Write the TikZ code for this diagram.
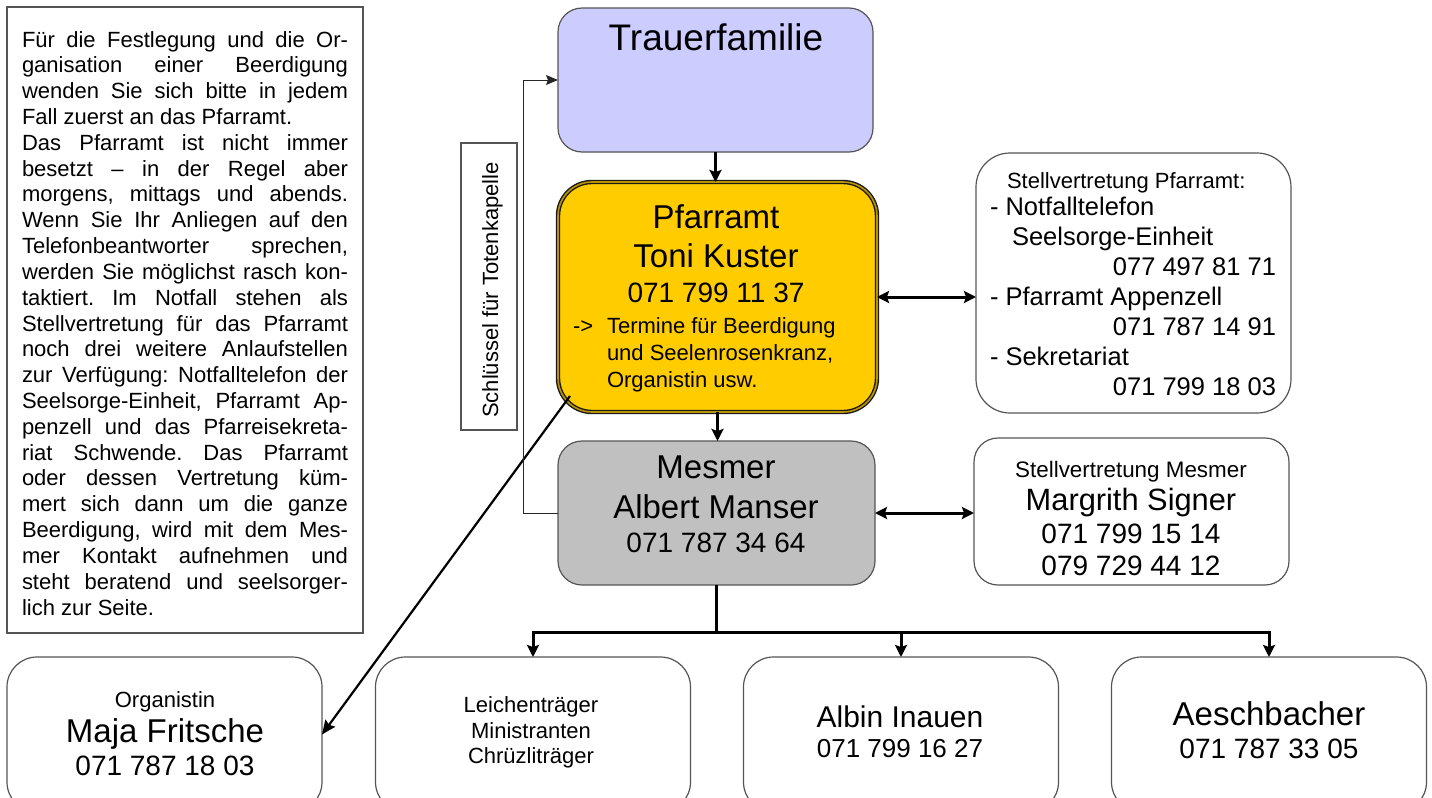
\documentclass[tikz,border=0pt]{standalone}
\usepackage{fontspec}
\setmainfont{Liberation Sans}
\usetikzlibrary{arrows.meta,calc}
\definecolor{lav}{HTML}{CCCCFF}
\definecolor{gold}{HTML}{FFCC00}
\definecolor{golddark}{HTML}{B89400}
\definecolor{grayfill}{HTML}{C0C0C0}
\definecolor{edge}{HTML}{555555}
\newcommand{\fsz}[1]{\fontsize{#1}{#1}\selectfont}
\frenchspacing
\begin{document}
\begin{tikzpicture}[x=0.5pt,y=-0.5pt,
  box/.style={draw=edge, line width=0.6pt, inner sep=0pt, outer sep=0pt},
  tx/.style={inner sep=0pt, outer sep=0pt, anchor=base},
  txl/.style={inner sep=0pt, outer sep=0pt, anchor=base west},
  txr/.style={inner sep=0pt, outer sep=0pt, anchor=base east},
  big/.style={-{Stealth[length=6pt,width=6pt,inset=1pt]}, line width=1.5pt},
  bidir/.style={{Stealth[length=6pt,width=6pt,inset=1pt]}-{Stealth[length=6pt,width=6pt,inset=1pt]}, line width=1.5pt},
  diag/.style={-{Stealth[length=7pt,width=6pt,inset=1pt]}, line width=1.1pt},
  slim/.style={-{Stealth[length=6pt,width=5pt,inset=1pt]}, line width=0.5pt, draw=black!85},
  bottombox/.style={box, rounded corners=15pt, minimum width=157.5pt, minimum height=77.5pt},
]
\clip (0,0) rectangle (1432,798);
\fill[white] (0,0) rectangle (1432,798);

% info text box
\node[box, line width=0.8pt, minimum width=178pt, minimum height=313pt] (info) at (185,320) {};
\node[txl] (infotext) at (22,47) {\parbox[t]{163pt}{\fontsize{11pt}{12.91pt}\selectfont\frenchspacing
\makebox[\linewidth][s]{Für die Festlegung und die Or-}\\
\makebox[\linewidth][s]{ganisation einer Beerdigung}\\
\makebox[\linewidth][s]{wenden Sie sich bitte in jedem}\\
Fall zuerst an das Pfarramt.\\
\makebox[\linewidth][s]{Das Pfarramt ist nicht immer}\\
\makebox[\linewidth][s]{besetzt – in der Regel aber}\\
\makebox[\linewidth][s]{morgens, mittags und abends.}\\
\makebox[\linewidth][s]{Wenn Sie Ihr Anliegen auf den}\\
\makebox[\linewidth][s]{Telefonbeantworter sprechen,}\\
\makebox[\linewidth][s]{werden Sie möglichst rasch kon-}\\
\makebox[\linewidth][s]{taktiert. Im Notfall stehen als}\\
\makebox[\linewidth][s]{Stellvertretung für das Pfarramt}\\
\makebox[\linewidth][s]{noch drei weitere Anlaufstellen}\\
\makebox[\linewidth][s]{zur Verfügung: Notfalltelefon der}\\
\makebox[\linewidth][s]{Seelsorge-Einheit, Pfarramt Ap-}\\
\makebox[\linewidth][s]{penzell und das Pfarreisekreta-}\\
\makebox[\linewidth][s]{riat Schwende. Das Pfarramt}\\
\makebox[\linewidth][s]{oder dessen Vertretung küm-}\\
\makebox[\linewidth][s]{mert sich dann um die ganze}\\
\makebox[\linewidth][s]{Beerdigung, wird mit dem Mes-}\\
\makebox[\linewidth][s]{mer Kontakt aufnehmen und}\\
\makebox[\linewidth][s]{steht beratend und seelsorger-}\\
lich zur Seite.}};

% Trauerfamilie
\node[box, fill=lav, rounded corners=12pt, minimum width=157.5pt, minimum height=72pt] (tf) at (715.5,80) {};
\node[tx, font=\fsz{18.5pt}] (tft) at (716,50) {Trauerfamilie};

% Pfarramt
\node[box, fill=gold, draw=black!90, double=golddark, double distance=0.8pt, line width=0.7pt, rounded corners=17pt, minimum width=159.5pt, minimum height=115pt] (pf) at (717.5,297) {};
\node[tx, font=\fsz{16.5pt}] (pf1) at (716,228) {Pfarramt};
\node[tx, font=\fsz{16.5pt}] (pf2) at (716,267) {Toni Kuster};
\node[tx, font=\fsz{14pt}] (pf3) at (716,302) {071 799 11 37};
\node[txl, font=\fsz{11pt}] (pf4a) at (573,333) {->};
\node[txl, font=\fsz{11pt}] (pf4) at (607,333) {Termine für Beerdigung};
\node[txl, font=\fsz{11pt}] (pf5) at (607,360) {und Seelenrosenkranz,};
\node[txl, font=\fsz{11pt}] (pf6) at (607,387) {Organistin usw.};

% Mesmer
\node[box, fill=grayfill, rounded corners=12pt, minimum width=158.5pt, minimum height=72pt] (ms) at (716.5,513) {};
\node[tx, font=\fsz{16.5pt}] (ms1) at (716,478) {Mesmer};
\node[tx, font=\fsz{16.5pt}] (ms2) at (716,518) {Albert Manser};
\node[tx, font=\fsz{14pt}] (ms3) at (716,552) {071 787 34 64};

% Stellvertretung Pfarramt
\node[box, fill=white, rounded corners=17pt, minimum width=157.5pt, minimum height=130pt] (sp) at (1133.5,283) {};
\node[txl, font=\fsz{11pt}] (sp1) at (1007,188) {Stellvertretung Pfarramt:};
\node[txl, font=\fsz{12.75pt}] (sp2) at (990,215) {- Notfalltelefon};
\node[txl, font=\fsz{12.75pt}] (sp3) at (1012,245) {Seelsorge-Einheit};
\node[txr, font=\fsz{12.75pt}] (sp4) at (1276,275) {077 497 81 71};
\node[txl, font=\fsz{12.75pt}] (sp5) at (990,305) {- Pfarramt Appenzell};
\node[txr, font=\fsz{12.75pt}] (sp6) at (1276,335) {071 787 14 91};
\node[txl, font=\fsz{12.75pt}] (sp7) at (990,365) {- Sekretariat};
\node[txr, font=\fsz{12.75pt}] (sp8) at (1276,395) {071 799 18 03};

% Stellvertretung Mesmer
\node[box, fill=white, rounded corners=12pt, minimum width=157.5pt, minimum height=73.5pt] (sm) at (1131.5,511.5) {};
\node[tx, font=\fsz{11.2pt}] (sm1) at (1131,477) {Stellvertretung Mesmer};
\node[tx, font=\fsz{15.4pt}] (sm2) at (1131,510) {Margrith Signer};
\node[tx, font=\fsz{14pt}] (sm3) at (1131,543) {071 799 15 14};
\node[tx, font=\fsz{14pt}] (sm4) at (1131,575) {079 729 44 12};

% key label
\node[box, minimum width=28pt, minimum height=143.5pt] (key) at (489,286.5) {};
\node[tx, rotate=90, font=\fsz{11pt}] (keyt) at (498,290) {Schlüssel für Totenkapelle};

% bottom boxes
\node[bottombox] (org) at (164.5,734.5) {};
\node[tx, font=\fsz{11pt}] (org1) at (165,707) {Organistin};
\node[tx, font=\fsz{16.5pt}] (org2) at (165,742) {Maja Fritsche};
\node[tx, font=\fsz{14pt}] (org3) at (165,775) {071 787 18 03};

\node[bottombox] (lei) at (533,734.5) {};
\node[tx, font=\fsz{11pt}] (lei1) at (531,712) {Leichenträger};
\node[tx, font=\fsz{11pt}] (lei2) at (531,738) {Ministranten};
\node[tx, font=\fsz{11pt}] (lei3) at (531,763) {Chrüzliträger};

\node[bottombox] (alb) at (901,734.5) {};
\node[tx, font=\fsz{15pt}] (alb1) at (900,727) {Albin Inauen};
\node[tx, font=\fsz{13pt}] (alb2) at (900,757) {071 799 16 27};

\node[bottombox] (aes) at (1269,734.5) {};
\node[tx, font=\fsz{16.5pt}] (aes1) at (1269,725) {Aeschbacher};
\node[tx, font=\fsz{14pt}] (aes2) at (1269,758) {071 787 33 05};

% connectors
\draw[big] (tf.south) -- (tf.south |- pf.north);
\draw[big] (pf.south) -- (pf.south |- ms.north);
\draw[bidir] (pf.east) -- (pf.east -| sp.west);
\draw[bidir] (ms.east) -- (ms.east -| sm.west);
\coordinate (br) at ($(ms.south |- lei.north)+(0,-25)$);
\draw[line width=1.5pt] (ms.south) -- (br);
\draw[big] (br) -| (lei.north);
\draw[big] (br) -| (alb.north);
\draw[big] (br) -| (aes.north);
\draw[diag] ($(pf.south west)+(12,-16)$) -- (org.east);
\coordinate (kx) at (523,0);
\draw[slim] (ms.west) -- (ms.west -| kx) |- (tf.west);
\end{tikzpicture}
\end{document}
